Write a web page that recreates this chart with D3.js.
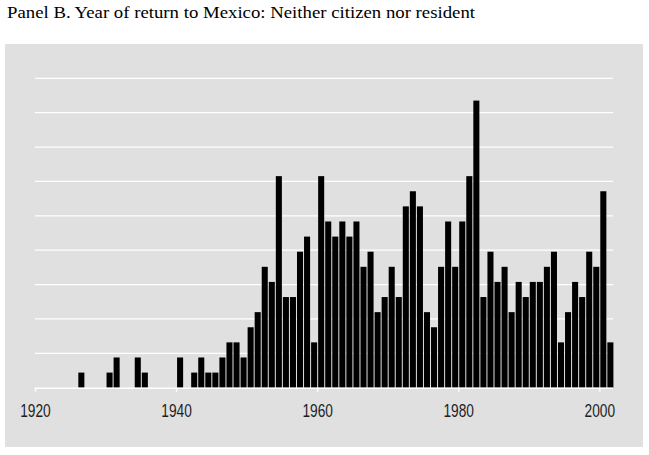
<!DOCTYPE html>
<html>
<head>
<meta charset="utf-8">
<script src="https://cdn.jsdelivr.net/npm/d3@7"></script>
<style>
  html, body { margin: 0; padding: 0; background: #fff; }
  svg { display: block; }
</style>
</head>
<body>
<svg id="chart" width="649" height="455"></svg>
<script>
// Data: year of return (bin start) and number of returnees
const years = [1926, 1930, 1931, 1934, 1935, 1940, 1942, 1943, 1944, 1945,
  1946, 1947, 1948, 1949, 1950, 1951, 1952, 1953, 1954, 1955,
  1956, 1957, 1958, 1959, 1960, 1961, 1962, 1963, 1964, 1965,
  1966, 1967, 1968, 1969, 1970, 1971, 1972, 1973, 1974, 1975,
  1976, 1977, 1978, 1979, 1980, 1981, 1982, 1983, 1984, 1985,
  1986, 1987, 1988, 1989, 1990, 1991, 1992, 1993, 1994, 1995,
  1996, 1997, 1998, 1999, 2000, 2001];
const counts = [1, 1, 2, 2, 1, 2, 1, 2, 1, 1,
  2, 3, 3, 2, 4, 5, 8, 7, 14, 6,
  6, 9, 10, 3, 14, 11, 10, 11, 10, 11,
  8, 9, 5, 6, 8, 6, 12, 13, 12, 5,
  4, 8, 11, 8, 11, 14, 19, 6, 9, 7,
  8, 5, 7, 6, 7, 7, 8, 9, 3, 5,
  7, 6, 9, 8, 13, 3];
const xTicks = [1920, 1940, 1960, 1980, 2000];
const gridValues = [0.5, 1, 1.5, 2, 2.5, 3, 3.5, 4, 4.5]; // percent
const title = "Panel B. Year of return to Mexico: Neither citizen nor resident";

const total = d3.sum(counts);
const data = years.map((y, i) => ({ year: y, pct: counts[i] / total * 100 }));

const svg = d3.select("#chart");

// panel background
svg.append("rect")
  .attr("x", 5).attr("y", 44)
  .attr("width", 638).attr("height", 403)
  .attr("fill", "#e0e0e0");

const x = d3.scaleLinear().domain([1920, 2001.9]).range([35, 612.7]);
const y = d3.scaleLinear().domain([0, 4.5]).range([387.7, 78.3]);

// gridlines
svg.append("g").selectAll("line")
  .data(gridValues)
  .join("line")
  .attr("x1", 35).attr("x2", 613)
  .attr("y1", d => y(d)).attr("y2", d => y(d))
  .attr("stroke", "#ffffff")
  .attr("stroke-width", 1.3);

// bars
svg.append("g").selectAll("rect")
  .data(data)
  .join("rect")
  .attr("x", d => x(d.year) + 1)
  .attr("width", d => x(d.year + 1) - x(d.year) - 1)
  .attr("y", d => y(d.pct))
  .attr("height", d => y(0) - y(d.pct))
  .attr("fill", "#000000");

// x axis
const axis = svg.append("g")
  .attr("transform", `translate(0,${y(0)})`)
  .call(d3.axisBottom(x).tickValues(xTicks).tickFormat(d3.format("d")).tickSize(4).tickSizeOuter(0));
axis.select(".domain").attr("stroke", "#ffffff").attr("stroke-width", 1.5)
  .attr("d", `M35,0.5H613`);
axis.selectAll(".tick line").attr("stroke", "#ffffff").attr("stroke-width", 1.5);
axis.selectAll(".tick text")
  .attr("y", 29).attr("dy", 0)
  .attr("fill", "#1e1e1e")
  .attr("font-family", "Liberation Sans, Arial, sans-serif")
  .attr("font-size", 19)
  .attr("textLength", 30.5)
  .attr("lengthAdjust", "spacingAndGlyphs");

// title
svg.append("text")
  .attr("x", 7).attr("y", 18.3)
  .attr("font-family", "Liberation Serif, Times New Roman, serif")
  .attr("font-size", 17.5)
  .attr("fill", "#000")
  .attr("textLength", 468)
  .attr("lengthAdjust", "spacingAndGlyphs")
  .text(title);
</script>
</body>
</html>
